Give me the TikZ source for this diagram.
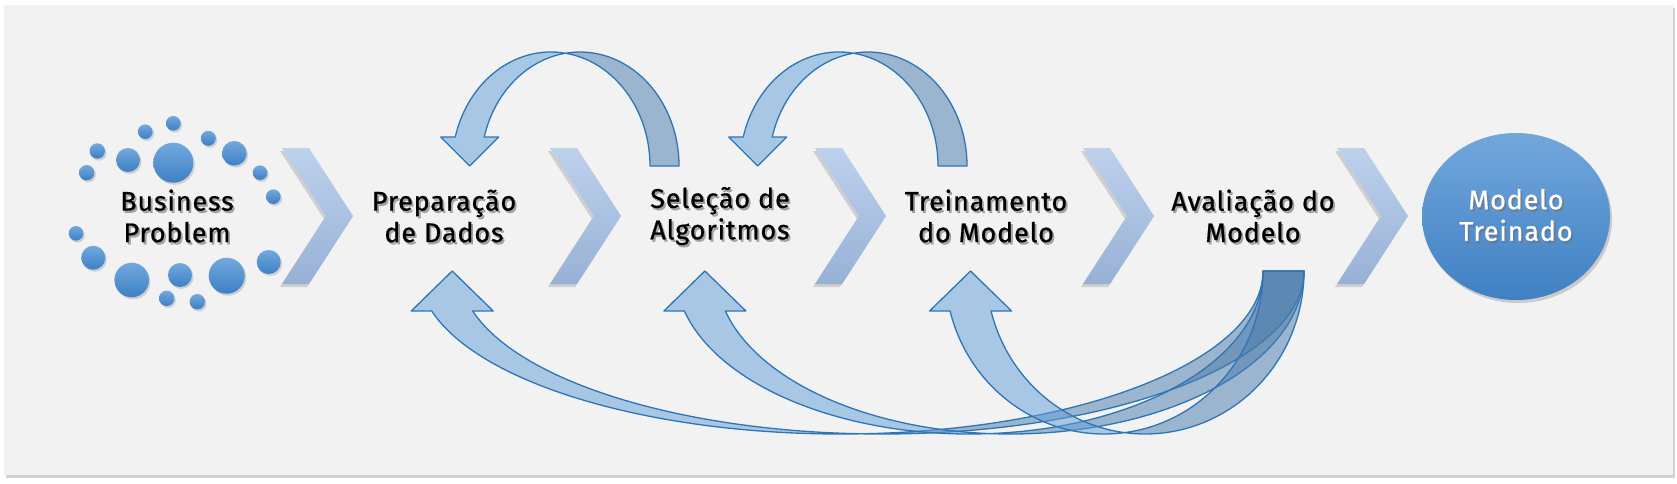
\documentclass[tikz,border=0pt]{standalone}
\usepackage{fontspec}
\setmainfont{Fira Sans}[LetterSpace=3, FakeBold=0.7]
\usetikzlibrary{shadows,shapes.geometric}
\definecolor{panel}{HTML}{F2F2F2}
\definecolor{edge}{HTML}{2E75B6}
\definecolor{lightb}{RGB}{96,158,218}
\definecolor{darkb}{RGB}{72,122,172}
\definecolor{chevtop}{HTML}{BDD1EC}
\definecolor{chevbot}{HTML}{97B1D6}
\definecolor{dottop}{HTML}{72A8DE}
\definecolor{dotbot}{HTML}{3D80C4}
\definecolor{elltop}{HTML}{72A7DC}
\definecolor{ellbot}{HTML}{3F80C3}

% curved down arrow (top): #1 = x of centre of outer ellipse
\newcommand{\topArrow}[1]{%
  \draw[lightband] ({#1-95.75},137)
     arc[start angle=194.74, end angle=278.42, x radius=99, y radius=114]
     arc[start angle=261.58, end angle=194.74, x radius=99, y radius=114]
     -- ++(14.5,0) -- ({#1-81.25},166) -- ({#1-110.25},137) -- cycle;
  \draw[darkband] ({#1+14.5},53.23)
     arc[start angle=278.42, end angle=360, x radius=99, y radius=114]
     -- ++(29,0)
     arc[start angle=360, end angle=261.58, x radius=99, y radius=114] -- cycle;
}
% curved up arrow (bottom): #1 = centre x, #2 = x radius
\newcommand{\botArrow}[2]{%
  \pgfmathsetmacro{\tone}{acos(20.5/#2)}%
  \pgfmathsetmacro{\ttwo}{180-\tone}%
  \pgfmathsetmacro{\hx}{#1-0.9694*#2}%
  \pgfmathsetmacro{\apy}{271+163*sin(\tone)}%
  \draw[darkband] ({#1+20.5},\apy)
     arc[start angle=\tone, end angle=0, x radius=#2, y radius=163]
     -- ++(41,0)
     arc[start angle=0, end angle=\ttwo, x radius=#2, y radius=163] -- cycle;
  \draw[lightband] (\hx,311)
     arc[start angle=165.79, end angle=\tone, x radius=#2, y radius=163]
     arc[start angle=\ttwo, end angle=165.79, x radius=#2, y radius=163]
     -- ++(20.5,0) -- ({\hx+20.5},271) -- ({\hx-20.5},311) -- cycle;
}
\newcommand{\chev}[1]{%
  \path[chevron] (#1,148) -- ({#1+27},148) -- ({#1+71},216) -- ({#1+27},284)
     -- (#1,284) -- ({#1+44},216) -- cycle;
}
\newcommand{\lbl}[4]{%
  \node[lbltxt, text=black!55, opacity=0.6, xshift=1.8pt, yshift=-2.2pt] at (#1) {#3};
  \node[lbltxt, text=#4] (#2) at (#1) {#3};
}

\begin{document}
\begin{tikzpicture}[x=1pt,y=-1pt,
  lightband/.style={fill=lightb, fill opacity=0.5, draw=edge, line width=1.3pt, line join=round},
  darkband/.style={fill=darkb, fill opacity=0.5, draw=edge, line width=1.3pt, line join=round},
  chevron/.style={top color=chevtop, bottom color=chevbot,
     drop shadow={shadow xshift=-2pt, shadow yshift=-3pt, opacity=0.3}},
  dot/.style={circle, inner sep=0pt, top color=dottop, bottom color=dotbot,
     drop shadow={shadow xshift=1.5pt, shadow yshift=-2pt, opacity=0.3}},
  lbltxt/.style={font=\fontsize{27}{31.5}\selectfont, align=center, inner sep=0pt}]
\useasboundingbox (0,0) rectangle (1677,483);
\fill[white] (0,0) rectangle (1677,483);
\path[fill=panel, drop shadow={shadow xshift=2pt, shadow yshift=-3pt, opacity=0.35}]
  (4,5) rectangle (1673,475);

% dots around "Business Problem"
\foreach \x/\y/\r [count=\i] in {173.3/123.3/7.3, 145.3/131.7/7.3, 208.3/138.3/7.5,
   97.3/151/7.7, 128/160/12, 173.3/162.7/20, 234.3/153.3/12.3, 86.7/172.7/7.7,
   260/172.7/7.3, 273.3/196.7/7.3, 76/233.3/7.3, 93.3/257.7/12, 131.7/280/17.3,
   180/275/12, 226.7/275.7/18, 268.7/262/12, 166.7/298.3/7.7, 197.3/301.7/7.7}
  \node[dot, minimum size={2*\r*1pt}] (d\i) at (\x,\y) {};

% chevrons
\chev{282}
\chev{550}
\chev{815}
\chev{1083}
\chev{1337}

% final ellipse
\node[ellipse, minimum width=188pt, minimum height=167pt, inner sep=0pt,
  top color=elltop, bottom color=ellbot,
  drop shadow={shadow xshift=2pt, shadow yshift=-3pt, opacity=0.35}] (ell) at (1516,216.5) {};

% top curved arrows
\topArrow{551}
\topArrow{839}

% bottom curved arrows
\botArrow{840.9}{422.1}
\botArrow{969.2}{293.8}
\botArrow{1104.1}{158.9}

% labels
\lbl{177,216}{bp}{Business\\Problem}{black}
\lbl{444,216}{prep}{Preparação\\de Dados}{black}
\lbl{720,216}{sel}{Seleção de\\Algoritmos}{black}
\lbl{986,216}{trein}{Treinamento\\do Modelo}{black}
\lbl{1253,216}{aval}{Avaliação do\\Modelo}{black}
\lbl{1516,215}{mt}{Modelo\\Treinado}{white}
\end{tikzpicture}
\end{document}
